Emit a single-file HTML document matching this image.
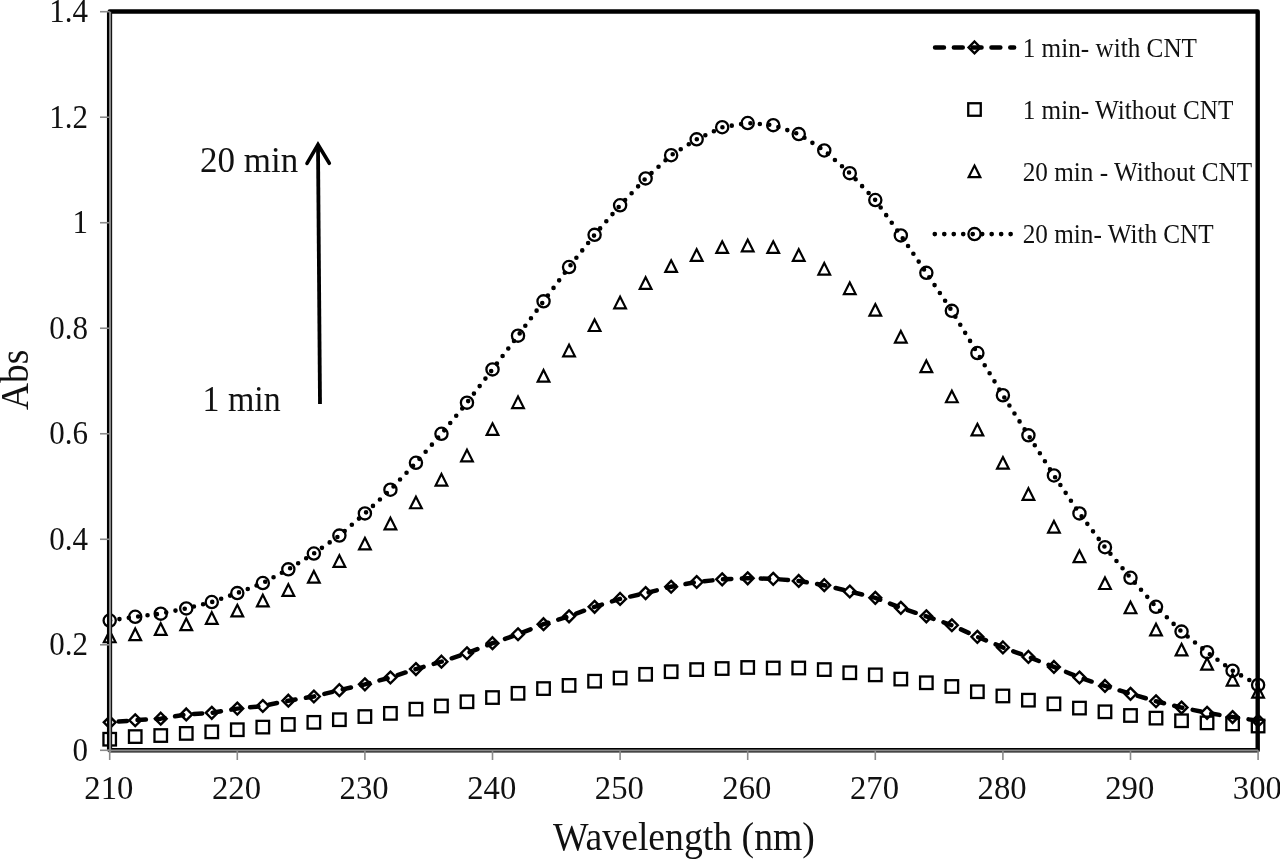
<!DOCTYPE html>
<html><head><meta charset="utf-8"><style>
html,body{margin:0;padding:0;background:#fff;}
svg{display:block;filter:grayscale(100%);}
text{font-family:"Liberation Serif", serif;fill:#111;}
</style></head><body>
<svg width="1280" height="859" viewBox="0 0 1280 859">
<text x="88" y="760.60" font-size="32.8" text-anchor="end" transform="translate(88 0) scale(0.946 1) translate(-88 0)">0</text>
<text x="88" y="655.09" font-size="32.8" text-anchor="end" transform="translate(88 0) scale(0.946 1) translate(-88 0)">0.2</text>
<text x="88" y="549.57" font-size="32.8" text-anchor="end" transform="translate(88 0) scale(0.946 1) translate(-88 0)">0.4</text>
<text x="88" y="444.06" font-size="32.8" text-anchor="end" transform="translate(88 0) scale(0.946 1) translate(-88 0)">0.6</text>
<text x="88" y="338.54" font-size="32.8" text-anchor="end" transform="translate(88 0) scale(0.946 1) translate(-88 0)">0.8</text>
<text x="88" y="233.03" font-size="32.8" text-anchor="end" transform="translate(88 0) scale(0.946 1) translate(-88 0)">1</text>
<text x="88" y="127.52" font-size="32.8" text-anchor="end" transform="translate(88 0) scale(0.946 1) translate(-88 0)">1.2</text>
<text x="88" y="22.00" font-size="32.8" text-anchor="end" transform="translate(88 0) scale(0.946 1) translate(-88 0)">1.4</text>
<text x="0" y="799.2" font-size="34" text-anchor="middle" transform="translate(108.90 0) scale(0.962 1)">210</text>
<text x="0" y="799.2" font-size="34" text-anchor="middle" transform="translate(236.50 0) scale(0.962 1)">220</text>
<text x="0" y="799.2" font-size="34" text-anchor="middle" transform="translate(364.10 0) scale(0.962 1)">230</text>
<text x="0" y="799.2" font-size="34" text-anchor="middle" transform="translate(491.70 0) scale(0.962 1)">240</text>
<text x="0" y="799.2" font-size="34" text-anchor="middle" transform="translate(619.30 0) scale(0.962 1)">250</text>
<text x="0" y="799.2" font-size="34" text-anchor="middle" transform="translate(746.90 0) scale(0.962 1)">260</text>
<text x="0" y="799.2" font-size="34" text-anchor="middle" transform="translate(874.50 0) scale(0.962 1)">270</text>
<text x="0" y="799.2" font-size="34" text-anchor="middle" transform="translate(1002.10 0) scale(0.962 1)">280</text>
<text x="0" y="799.2" font-size="34" text-anchor="middle" transform="translate(1129.70 0) scale(0.962 1)">290</text>
<text x="0" y="799.2" font-size="34" text-anchor="middle" transform="translate(1257.30 0) scale(0.962 1)">300</text>
<text x="553" y="850.5" font-size="39" transform="translate(553 0) scale(0.967 1) translate(-553 0)">Wavelength (nm)</text>
<text transform="translate(27.6 410) rotate(-90) scale(0.96 1)" x="0" y="0" font-size="39">Abs</text>
<polyline points="109.70,722.34 135.22,720.23 160.74,718.65 186.26,714.43 211.78,712.84 237.30,708.62 262.82,705.98 288.34,700.71 313.86,696.49 339.38,690.16 364.90,684.35 390.42,677.50 415.94,669.05 441.46,661.67 466.98,653.23 492.50,643.20 518.02,634.23 543.54,624.21 569.06,616.30 594.58,606.80 620.10,598.89 645.62,593.08 671.14,586.75 696.66,582.01 722.18,579.37 747.70,578.31 773.22,578.84 798.74,580.95 824.26,585.17 849.78,591.50 875.30,597.83 900.82,607.86 926.34,616.30 951.86,625.27 977.38,636.87 1002.90,647.42 1028.42,656.92 1053.94,666.94 1079.46,677.50 1104.98,685.94 1130.50,693.85 1156.02,701.24 1181.54,707.57 1207.06,712.84 1232.58,717.06 1258.10,720.76" fill="none" stroke="#000" stroke-width="4.5" stroke-linecap="round" stroke-linejoin="round" stroke-dasharray="8.4 10.5" stroke-dashoffset="9.9"/>
<polyline points="109.70,620.52 135.22,616.82 160.74,613.66 186.26,608.38 211.78,602.05 237.30,593.08 262.82,583.06 288.34,569.34 313.86,553.52 339.38,535.58 364.90,513.42 390.42,489.68 415.94,462.77 441.46,433.76 466.98,402.63 492.50,369.39 518.02,335.63 543.54,301.34 569.06,267.05 594.58,234.86 620.10,205.32 645.62,178.41 671.14,155.20 696.66,139.37 722.18,127.24 747.70,123.02 773.22,125.13 798.74,134.10 824.26,150.45 849.78,173.14 875.30,200.04 900.82,235.39 926.34,272.85 951.86,310.83 977.38,353.04 1002.90,395.25 1028.42,435.34 1053.94,475.44 1079.46,513.42 1104.98,547.19 1130.50,577.78 1156.02,606.80 1181.54,631.60 1207.06,652.17 1232.58,670.64 1258.10,684.88" fill="none" stroke="#000" stroke-width="4.6" stroke-linecap="round" stroke-linejoin="round" stroke-dasharray="0 9.45" stroke-dashoffset="9.05"/>
<rect x="103.45" y="732.97" width="12.5" height="12.5" fill="none" stroke="#000" stroke-width="2.3"/>
<rect x="128.97" y="730.33" width="12.5" height="12.5" fill="none" stroke="#000" stroke-width="2.3"/>
<rect x="154.49" y="729.28" width="12.5" height="12.5" fill="none" stroke="#000" stroke-width="2.3"/>
<rect x="180.01" y="727.17" width="12.5" height="12.5" fill="none" stroke="#000" stroke-width="2.3"/>
<rect x="205.53" y="725.59" width="12.5" height="12.5" fill="none" stroke="#000" stroke-width="2.3"/>
<rect x="231.05" y="723.47" width="12.5" height="12.5" fill="none" stroke="#000" stroke-width="2.3"/>
<rect x="256.57" y="720.84" width="12.5" height="12.5" fill="none" stroke="#000" stroke-width="2.3"/>
<rect x="282.09" y="718.20" width="12.5" height="12.5" fill="none" stroke="#000" stroke-width="2.3"/>
<rect x="307.61" y="716.09" width="12.5" height="12.5" fill="none" stroke="#000" stroke-width="2.3"/>
<rect x="333.13" y="713.45" width="12.5" height="12.5" fill="none" stroke="#000" stroke-width="2.3"/>
<rect x="358.65" y="710.29" width="12.5" height="12.5" fill="none" stroke="#000" stroke-width="2.3"/>
<rect x="384.17" y="707.12" width="12.5" height="12.5" fill="none" stroke="#000" stroke-width="2.3"/>
<rect x="409.69" y="702.90" width="12.5" height="12.5" fill="none" stroke="#000" stroke-width="2.3"/>
<rect x="435.21" y="699.73" width="12.5" height="12.5" fill="none" stroke="#000" stroke-width="2.3"/>
<rect x="460.73" y="695.51" width="12.5" height="12.5" fill="none" stroke="#000" stroke-width="2.3"/>
<rect x="486.25" y="691.29" width="12.5" height="12.5" fill="none" stroke="#000" stroke-width="2.3"/>
<rect x="511.77" y="687.07" width="12.5" height="12.5" fill="none" stroke="#000" stroke-width="2.3"/>
<rect x="537.29" y="682.32" width="12.5" height="12.5" fill="none" stroke="#000" stroke-width="2.3"/>
<rect x="562.81" y="679.16" width="12.5" height="12.5" fill="none" stroke="#000" stroke-width="2.3"/>
<rect x="588.33" y="674.94" width="12.5" height="12.5" fill="none" stroke="#000" stroke-width="2.3"/>
<rect x="613.85" y="671.77" width="12.5" height="12.5" fill="none" stroke="#000" stroke-width="2.3"/>
<rect x="639.37" y="668.08" width="12.5" height="12.5" fill="none" stroke="#000" stroke-width="2.3"/>
<rect x="664.89" y="665.44" width="12.5" height="12.5" fill="none" stroke="#000" stroke-width="2.3"/>
<rect x="690.41" y="663.33" width="12.5" height="12.5" fill="none" stroke="#000" stroke-width="2.3"/>
<rect x="715.93" y="662.28" width="12.5" height="12.5" fill="none" stroke="#000" stroke-width="2.3"/>
<rect x="741.45" y="661.22" width="12.5" height="12.5" fill="none" stroke="#000" stroke-width="2.3"/>
<rect x="766.97" y="661.75" width="12.5" height="12.5" fill="none" stroke="#000" stroke-width="2.3"/>
<rect x="792.49" y="661.75" width="12.5" height="12.5" fill="none" stroke="#000" stroke-width="2.3"/>
<rect x="818.01" y="663.33" width="12.5" height="12.5" fill="none" stroke="#000" stroke-width="2.3"/>
<rect x="843.53" y="666.50" width="12.5" height="12.5" fill="none" stroke="#000" stroke-width="2.3"/>
<rect x="869.05" y="668.61" width="12.5" height="12.5" fill="none" stroke="#000" stroke-width="2.3"/>
<rect x="894.57" y="672.83" width="12.5" height="12.5" fill="none" stroke="#000" stroke-width="2.3"/>
<rect x="920.09" y="676.52" width="12.5" height="12.5" fill="none" stroke="#000" stroke-width="2.3"/>
<rect x="945.61" y="680.21" width="12.5" height="12.5" fill="none" stroke="#000" stroke-width="2.3"/>
<rect x="971.13" y="685.49" width="12.5" height="12.5" fill="none" stroke="#000" stroke-width="2.3"/>
<rect x="996.65" y="689.71" width="12.5" height="12.5" fill="none" stroke="#000" stroke-width="2.3"/>
<rect x="1022.17" y="693.93" width="12.5" height="12.5" fill="none" stroke="#000" stroke-width="2.3"/>
<rect x="1047.69" y="697.62" width="12.5" height="12.5" fill="none" stroke="#000" stroke-width="2.3"/>
<rect x="1073.21" y="701.84" width="12.5" height="12.5" fill="none" stroke="#000" stroke-width="2.3"/>
<rect x="1098.73" y="705.54" width="12.5" height="12.5" fill="none" stroke="#000" stroke-width="2.3"/>
<rect x="1124.25" y="709.23" width="12.5" height="12.5" fill="none" stroke="#000" stroke-width="2.3"/>
<rect x="1149.77" y="711.87" width="12.5" height="12.5" fill="none" stroke="#000" stroke-width="2.3"/>
<rect x="1175.29" y="714.51" width="12.5" height="12.5" fill="none" stroke="#000" stroke-width="2.3"/>
<rect x="1200.81" y="716.62" width="12.5" height="12.5" fill="none" stroke="#000" stroke-width="2.3"/>
<rect x="1226.33" y="717.67" width="12.5" height="12.5" fill="none" stroke="#000" stroke-width="2.3"/>
<rect x="1251.85" y="719.78" width="12.5" height="12.5" fill="none" stroke="#000" stroke-width="2.3"/>
<path d="M109.70 716.44L115.60 722.34L109.70 728.24L103.80 722.34Z" fill="none" stroke="#000" stroke-width="2.4"/>
<path d="M135.22 714.33L141.12 720.23L135.22 726.13L129.32 720.23Z" fill="none" stroke="#000" stroke-width="2.4"/>
<path d="M160.74 712.75L166.64 718.65L160.74 724.55L154.84 718.65Z" fill="none" stroke="#000" stroke-width="2.4"/>
<path d="M186.26 708.53L192.16 714.43L186.26 720.33L180.36 714.43Z" fill="none" stroke="#000" stroke-width="2.4"/>
<path d="M211.78 706.94L217.68 712.84L211.78 718.74L205.88 712.84Z" fill="none" stroke="#000" stroke-width="2.4"/>
<path d="M237.30 702.72L243.20 708.62L237.30 714.52L231.40 708.62Z" fill="none" stroke="#000" stroke-width="2.4"/>
<path d="M262.82 700.08L268.72 705.98L262.82 711.88L256.92 705.98Z" fill="none" stroke="#000" stroke-width="2.4"/>
<path d="M288.34 694.81L294.24 700.71L288.34 706.61L282.44 700.71Z" fill="none" stroke="#000" stroke-width="2.4"/>
<path d="M313.86 690.59L319.76 696.49L313.86 702.39L307.96 696.49Z" fill="none" stroke="#000" stroke-width="2.4"/>
<path d="M339.38 684.26L345.28 690.16L339.38 696.06L333.48 690.16Z" fill="none" stroke="#000" stroke-width="2.4"/>
<path d="M364.90 678.45L370.80 684.35L364.90 690.25L359.00 684.35Z" fill="none" stroke="#000" stroke-width="2.4"/>
<path d="M390.42 671.60L396.32 677.50L390.42 683.40L384.52 677.50Z" fill="none" stroke="#000" stroke-width="2.4"/>
<path d="M415.94 663.15L421.84 669.05L415.94 674.95L410.04 669.05Z" fill="none" stroke="#000" stroke-width="2.4"/>
<path d="M441.46 655.77L447.36 661.67L441.46 667.57L435.56 661.67Z" fill="none" stroke="#000" stroke-width="2.4"/>
<path d="M466.98 647.33L472.88 653.23L466.98 659.13L461.08 653.23Z" fill="none" stroke="#000" stroke-width="2.4"/>
<path d="M492.50 637.30L498.40 643.20L492.50 649.10L486.60 643.20Z" fill="none" stroke="#000" stroke-width="2.4"/>
<path d="M518.02 628.33L523.92 634.23L518.02 640.13L512.12 634.23Z" fill="none" stroke="#000" stroke-width="2.4"/>
<path d="M543.54 618.31L549.44 624.21L543.54 630.11L537.64 624.21Z" fill="none" stroke="#000" stroke-width="2.4"/>
<path d="M569.06 610.40L574.96 616.30L569.06 622.20L563.16 616.30Z" fill="none" stroke="#000" stroke-width="2.4"/>
<path d="M594.58 600.90L600.48 606.80L594.58 612.70L588.68 606.80Z" fill="none" stroke="#000" stroke-width="2.4"/>
<path d="M620.10 592.99L626.00 598.89L620.10 604.79L614.20 598.89Z" fill="none" stroke="#000" stroke-width="2.4"/>
<path d="M645.62 587.18L651.52 593.08L645.62 598.98L639.72 593.08Z" fill="none" stroke="#000" stroke-width="2.4"/>
<path d="M671.14 580.85L677.04 586.75L671.14 592.65L665.24 586.75Z" fill="none" stroke="#000" stroke-width="2.4"/>
<path d="M696.66 576.11L702.56 582.01L696.66 587.91L690.76 582.01Z" fill="none" stroke="#000" stroke-width="2.4"/>
<path d="M722.18 573.47L728.08 579.37L722.18 585.27L716.28 579.37Z" fill="none" stroke="#000" stroke-width="2.4"/>
<path d="M747.70 572.41L753.60 578.31L747.70 584.21L741.80 578.31Z" fill="none" stroke="#000" stroke-width="2.4"/>
<path d="M773.22 572.94L779.12 578.84L773.22 584.74L767.32 578.84Z" fill="none" stroke="#000" stroke-width="2.4"/>
<path d="M798.74 575.05L804.64 580.95L798.74 586.85L792.84 580.95Z" fill="none" stroke="#000" stroke-width="2.4"/>
<path d="M824.26 579.27L830.16 585.17L824.26 591.07L818.36 585.17Z" fill="none" stroke="#000" stroke-width="2.4"/>
<path d="M849.78 585.60L855.68 591.50L849.78 597.40L843.88 591.50Z" fill="none" stroke="#000" stroke-width="2.4"/>
<path d="M875.30 591.93L881.20 597.83L875.30 603.73L869.40 597.83Z" fill="none" stroke="#000" stroke-width="2.4"/>
<path d="M900.82 601.96L906.72 607.86L900.82 613.76L894.92 607.86Z" fill="none" stroke="#000" stroke-width="2.4"/>
<path d="M926.34 610.40L932.24 616.30L926.34 622.20L920.44 616.30Z" fill="none" stroke="#000" stroke-width="2.4"/>
<path d="M951.86 619.37L957.76 625.27L951.86 631.17L945.96 625.27Z" fill="none" stroke="#000" stroke-width="2.4"/>
<path d="M977.38 630.97L983.28 636.87L977.38 642.77L971.48 636.87Z" fill="none" stroke="#000" stroke-width="2.4"/>
<path d="M1002.90 641.52L1008.80 647.42L1002.90 653.32L997.00 647.42Z" fill="none" stroke="#000" stroke-width="2.4"/>
<path d="M1028.42 651.02L1034.32 656.92L1028.42 662.82L1022.52 656.92Z" fill="none" stroke="#000" stroke-width="2.4"/>
<path d="M1053.94 661.04L1059.84 666.94L1053.94 672.84L1048.04 666.94Z" fill="none" stroke="#000" stroke-width="2.4"/>
<path d="M1079.46 671.60L1085.36 677.50L1079.46 683.40L1073.56 677.50Z" fill="none" stroke="#000" stroke-width="2.4"/>
<path d="M1104.98 680.04L1110.88 685.94L1104.98 691.84L1099.08 685.94Z" fill="none" stroke="#000" stroke-width="2.4"/>
<path d="M1130.50 687.95L1136.40 693.85L1130.50 699.75L1124.60 693.85Z" fill="none" stroke="#000" stroke-width="2.4"/>
<path d="M1156.02 695.34L1161.92 701.24L1156.02 707.14L1150.12 701.24Z" fill="none" stroke="#000" stroke-width="2.4"/>
<path d="M1181.54 701.67L1187.44 707.57L1181.54 713.47L1175.64 707.57Z" fill="none" stroke="#000" stroke-width="2.4"/>
<path d="M1207.06 706.94L1212.96 712.84L1207.06 718.74L1201.16 712.84Z" fill="none" stroke="#000" stroke-width="2.4"/>
<path d="M1232.58 711.16L1238.48 717.06L1232.58 722.96L1226.68 717.06Z" fill="none" stroke="#000" stroke-width="2.4"/>
<path d="M1258.10 714.86L1264.00 720.76L1258.10 726.66L1252.20 720.76Z" fill="none" stroke="#000" stroke-width="2.4"/>
<path d="M109.70 630.67L115.55 642.27L103.85 642.27Z" fill="none" stroke="#000" stroke-width="2.2" stroke-linejoin="miter"/>
<path d="M135.22 628.56L141.07 640.16L129.37 640.16Z" fill="none" stroke="#000" stroke-width="2.2" stroke-linejoin="miter"/>
<path d="M160.74 623.29L166.59 634.89L154.89 634.89Z" fill="none" stroke="#000" stroke-width="2.2" stroke-linejoin="miter"/>
<path d="M186.26 618.54L192.11 630.14L180.41 630.14Z" fill="none" stroke="#000" stroke-width="2.2" stroke-linejoin="miter"/>
<path d="M211.78 612.21L217.63 623.81L205.93 623.81Z" fill="none" stroke="#000" stroke-width="2.2" stroke-linejoin="miter"/>
<path d="M237.30 604.82L243.15 616.42L231.45 616.42Z" fill="none" stroke="#000" stroke-width="2.2" stroke-linejoin="miter"/>
<path d="M262.82 594.80L268.67 606.40L256.97 606.40Z" fill="none" stroke="#000" stroke-width="2.2" stroke-linejoin="miter"/>
<path d="M288.34 584.25L294.19 595.85L282.49 595.85Z" fill="none" stroke="#000" stroke-width="2.2" stroke-linejoin="miter"/>
<path d="M313.86 571.06L319.71 582.66L308.01 582.66Z" fill="none" stroke="#000" stroke-width="2.2" stroke-linejoin="miter"/>
<path d="M339.38 555.23L345.23 566.83L333.53 566.83Z" fill="none" stroke="#000" stroke-width="2.2" stroke-linejoin="miter"/>
<path d="M364.90 537.82L370.75 549.42L359.05 549.42Z" fill="none" stroke="#000" stroke-width="2.2" stroke-linejoin="miter"/>
<path d="M390.42 517.77L396.27 529.37L384.57 529.37Z" fill="none" stroke="#000" stroke-width="2.2" stroke-linejoin="miter"/>
<path d="M415.94 496.67L421.79 508.27L410.09 508.27Z" fill="none" stroke="#000" stroke-width="2.2" stroke-linejoin="miter"/>
<path d="M441.46 473.98L447.31 485.58L435.61 485.58Z" fill="none" stroke="#000" stroke-width="2.2" stroke-linejoin="miter"/>
<path d="M466.98 449.72L472.83 461.32L461.13 461.32Z" fill="none" stroke="#000" stroke-width="2.2" stroke-linejoin="miter"/>
<path d="M492.50 423.34L498.35 434.94L486.65 434.94Z" fill="none" stroke="#000" stroke-width="2.2" stroke-linejoin="miter"/>
<path d="M518.02 396.43L523.87 408.03L512.17 408.03Z" fill="none" stroke="#000" stroke-width="2.2" stroke-linejoin="miter"/>
<path d="M543.54 370.05L549.39 381.65L537.69 381.65Z" fill="none" stroke="#000" stroke-width="2.2" stroke-linejoin="miter"/>
<path d="M569.06 344.73L574.91 356.33L563.21 356.33Z" fill="none" stroke="#000" stroke-width="2.2" stroke-linejoin="miter"/>
<path d="M594.58 319.41L600.43 331.01L588.73 331.01Z" fill="none" stroke="#000" stroke-width="2.2" stroke-linejoin="miter"/>
<path d="M620.10 296.72L625.95 308.32L614.25 308.32Z" fill="none" stroke="#000" stroke-width="2.2" stroke-linejoin="miter"/>
<path d="M645.62 277.20L651.47 288.80L639.77 288.80Z" fill="none" stroke="#000" stroke-width="2.2" stroke-linejoin="miter"/>
<path d="M671.14 260.32L676.99 271.92L665.29 271.92Z" fill="none" stroke="#000" stroke-width="2.2" stroke-linejoin="miter"/>
<path d="M696.66 249.24L702.51 260.84L690.81 260.84Z" fill="none" stroke="#000" stroke-width="2.2" stroke-linejoin="miter"/>
<path d="M722.18 241.33L728.03 252.93L716.33 252.93Z" fill="none" stroke="#000" stroke-width="2.2" stroke-linejoin="miter"/>
<path d="M747.70 239.74L753.55 251.34L741.85 251.34Z" fill="none" stroke="#000" stroke-width="2.2" stroke-linejoin="miter"/>
<path d="M773.22 241.33L779.07 252.93L767.37 252.93Z" fill="none" stroke="#000" stroke-width="2.2" stroke-linejoin="miter"/>
<path d="M798.74 249.24L804.59 260.84L792.89 260.84Z" fill="none" stroke="#000" stroke-width="2.2" stroke-linejoin="miter"/>
<path d="M824.26 262.96L830.11 274.56L818.41 274.56Z" fill="none" stroke="#000" stroke-width="2.2" stroke-linejoin="miter"/>
<path d="M849.78 282.48L855.63 294.08L843.93 294.08Z" fill="none" stroke="#000" stroke-width="2.2" stroke-linejoin="miter"/>
<path d="M875.30 304.11L881.15 315.71L869.45 315.71Z" fill="none" stroke="#000" stroke-width="2.2" stroke-linejoin="miter"/>
<path d="M900.82 331.01L906.67 342.61L894.97 342.61Z" fill="none" stroke="#000" stroke-width="2.2" stroke-linejoin="miter"/>
<path d="M926.34 360.56L932.19 372.16L920.49 372.16Z" fill="none" stroke="#000" stroke-width="2.2" stroke-linejoin="miter"/>
<path d="M951.86 390.63L957.71 402.23L946.01 402.23Z" fill="none" stroke="#000" stroke-width="2.2" stroke-linejoin="miter"/>
<path d="M977.38 423.87L983.23 435.47L971.53 435.47Z" fill="none" stroke="#000" stroke-width="2.2" stroke-linejoin="miter"/>
<path d="M1002.90 457.10L1008.75 468.70L997.05 468.70Z" fill="none" stroke="#000" stroke-width="2.2" stroke-linejoin="miter"/>
<path d="M1028.42 488.23L1034.27 499.83L1022.57 499.83Z" fill="none" stroke="#000" stroke-width="2.2" stroke-linejoin="miter"/>
<path d="M1053.94 520.94L1059.79 532.54L1048.09 532.54Z" fill="none" stroke="#000" stroke-width="2.2" stroke-linejoin="miter"/>
<path d="M1079.46 550.48L1085.31 562.08L1073.61 562.08Z" fill="none" stroke="#000" stroke-width="2.2" stroke-linejoin="miter"/>
<path d="M1104.98 577.39L1110.83 588.99L1099.13 588.99Z" fill="none" stroke="#000" stroke-width="2.2" stroke-linejoin="miter"/>
<path d="M1130.50 601.66L1136.35 613.26L1124.65 613.26Z" fill="none" stroke="#000" stroke-width="2.2" stroke-linejoin="miter"/>
<path d="M1156.02 623.81L1161.87 635.41L1150.17 635.41Z" fill="none" stroke="#000" stroke-width="2.2" stroke-linejoin="miter"/>
<path d="M1181.54 643.86L1187.39 655.46L1175.69 655.46Z" fill="none" stroke="#000" stroke-width="2.2" stroke-linejoin="miter"/>
<path d="M1207.06 658.11L1212.91 669.71L1201.21 669.71Z" fill="none" stroke="#000" stroke-width="2.2" stroke-linejoin="miter"/>
<path d="M1232.58 673.93L1238.43 685.53L1226.73 685.53Z" fill="none" stroke="#000" stroke-width="2.2" stroke-linejoin="miter"/>
<path d="M1258.10 686.07L1263.95 697.67L1252.25 697.67Z" fill="none" stroke="#000" stroke-width="2.2" stroke-linejoin="miter"/>
<circle cx="109.70" cy="620.52" r="6.1" fill="none" stroke="#000" stroke-width="2.3"/>
<circle cx="135.22" cy="616.82" r="6.1" fill="none" stroke="#000" stroke-width="2.3"/>
<circle cx="160.74" cy="613.66" r="6.1" fill="none" stroke="#000" stroke-width="2.3"/>
<circle cx="186.26" cy="608.38" r="6.1" fill="none" stroke="#000" stroke-width="2.3"/>
<circle cx="211.78" cy="602.05" r="6.1" fill="none" stroke="#000" stroke-width="2.3"/>
<circle cx="237.30" cy="593.08" r="6.1" fill="none" stroke="#000" stroke-width="2.3"/>
<circle cx="262.82" cy="583.06" r="6.1" fill="none" stroke="#000" stroke-width="2.3"/>
<circle cx="288.34" cy="569.34" r="6.1" fill="none" stroke="#000" stroke-width="2.3"/>
<circle cx="313.86" cy="553.52" r="6.1" fill="none" stroke="#000" stroke-width="2.3"/>
<circle cx="339.38" cy="535.58" r="6.1" fill="none" stroke="#000" stroke-width="2.3"/>
<circle cx="364.90" cy="513.42" r="6.1" fill="none" stroke="#000" stroke-width="2.3"/>
<circle cx="390.42" cy="489.68" r="6.1" fill="none" stroke="#000" stroke-width="2.3"/>
<circle cx="415.94" cy="462.77" r="6.1" fill="none" stroke="#000" stroke-width="2.3"/>
<circle cx="441.46" cy="433.76" r="6.1" fill="none" stroke="#000" stroke-width="2.3"/>
<circle cx="466.98" cy="402.63" r="6.1" fill="none" stroke="#000" stroke-width="2.3"/>
<circle cx="492.50" cy="369.39" r="6.1" fill="none" stroke="#000" stroke-width="2.3"/>
<circle cx="518.02" cy="335.63" r="6.1" fill="none" stroke="#000" stroke-width="2.3"/>
<circle cx="543.54" cy="301.34" r="6.1" fill="none" stroke="#000" stroke-width="2.3"/>
<circle cx="569.06" cy="267.05" r="6.1" fill="none" stroke="#000" stroke-width="2.3"/>
<circle cx="594.58" cy="234.86" r="6.1" fill="none" stroke="#000" stroke-width="2.3"/>
<circle cx="620.10" cy="205.32" r="6.1" fill="none" stroke="#000" stroke-width="2.3"/>
<circle cx="645.62" cy="178.41" r="6.1" fill="none" stroke="#000" stroke-width="2.3"/>
<circle cx="671.14" cy="155.20" r="6.1" fill="none" stroke="#000" stroke-width="2.3"/>
<circle cx="696.66" cy="139.37" r="6.1" fill="none" stroke="#000" stroke-width="2.3"/>
<circle cx="722.18" cy="127.24" r="6.1" fill="none" stroke="#000" stroke-width="2.3"/>
<circle cx="747.70" cy="123.02" r="6.1" fill="none" stroke="#000" stroke-width="2.3"/>
<circle cx="773.22" cy="125.13" r="6.1" fill="none" stroke="#000" stroke-width="2.3"/>
<circle cx="798.74" cy="134.10" r="6.1" fill="none" stroke="#000" stroke-width="2.3"/>
<circle cx="824.26" cy="150.45" r="6.1" fill="none" stroke="#000" stroke-width="2.3"/>
<circle cx="849.78" cy="173.14" r="6.1" fill="none" stroke="#000" stroke-width="2.3"/>
<circle cx="875.30" cy="200.04" r="6.1" fill="none" stroke="#000" stroke-width="2.3"/>
<circle cx="900.82" cy="235.39" r="6.1" fill="none" stroke="#000" stroke-width="2.3"/>
<circle cx="926.34" cy="272.85" r="6.1" fill="none" stroke="#000" stroke-width="2.3"/>
<circle cx="951.86" cy="310.83" r="6.1" fill="none" stroke="#000" stroke-width="2.3"/>
<circle cx="977.38" cy="353.04" r="6.1" fill="none" stroke="#000" stroke-width="2.3"/>
<circle cx="1002.90" cy="395.25" r="6.1" fill="none" stroke="#000" stroke-width="2.3"/>
<circle cx="1028.42" cy="435.34" r="6.1" fill="none" stroke="#000" stroke-width="2.3"/>
<circle cx="1053.94" cy="475.44" r="6.1" fill="none" stroke="#000" stroke-width="2.3"/>
<circle cx="1079.46" cy="513.42" r="6.1" fill="none" stroke="#000" stroke-width="2.3"/>
<circle cx="1104.98" cy="547.19" r="6.1" fill="none" stroke="#000" stroke-width="2.3"/>
<circle cx="1130.50" cy="577.78" r="6.1" fill="none" stroke="#000" stroke-width="2.3"/>
<circle cx="1156.02" cy="606.80" r="6.1" fill="none" stroke="#000" stroke-width="2.3"/>
<circle cx="1181.54" cy="631.60" r="6.1" fill="none" stroke="#000" stroke-width="2.3"/>
<circle cx="1207.06" cy="652.17" r="6.1" fill="none" stroke="#000" stroke-width="2.3"/>
<circle cx="1232.58" cy="670.64" r="6.1" fill="none" stroke="#000" stroke-width="2.3"/>
<circle cx="1258.10" cy="684.88" r="6.1" fill="none" stroke="#000" stroke-width="2.3"/>
<rect x="109.70" y="11.55" width="1148.00" height="738.75" fill="none" stroke="#000" stroke-width="4.4" stroke-linejoin="round"/>
<line x1="109.55" y1="11.55" x2="109.55" y2="750.30" stroke="#000" stroke-width="5.2"/>
<line x1="110.1" y1="11.70" x2="110.1" y2="752.55" stroke="#8a8a8a" stroke-width="2.1"/>
<line x1="107.45" y1="750.45" x2="1258.10" y2="750.45" stroke="#8a8a8a" stroke-width="2.1"/>
<line x1="100" y1="750.30" x2="109.70" y2="750.30" stroke="#8a8a8a" stroke-width="1.6"/>
<line x1="100" y1="644.79" x2="109.70" y2="644.79" stroke="#8a8a8a" stroke-width="1.6"/>
<line x1="100" y1="539.27" x2="109.70" y2="539.27" stroke="#8a8a8a" stroke-width="1.6"/>
<line x1="100" y1="433.76" x2="109.70" y2="433.76" stroke="#8a8a8a" stroke-width="1.6"/>
<line x1="100" y1="328.24" x2="109.70" y2="328.24" stroke="#8a8a8a" stroke-width="1.6"/>
<line x1="100" y1="222.73" x2="109.70" y2="222.73" stroke="#8a8a8a" stroke-width="1.6"/>
<line x1="100" y1="117.22" x2="109.70" y2="117.22" stroke="#8a8a8a" stroke-width="1.6"/>
<line x1="100" y1="11.70" x2="109.70" y2="11.70" stroke="#8a8a8a" stroke-width="1.6"/>
<line x1="109.70" y1="750.30" x2="109.70" y2="760" stroke="#8a8a8a" stroke-width="1.6"/>
<line x1="237.30" y1="750.30" x2="237.30" y2="760" stroke="#8a8a8a" stroke-width="1.6"/>
<line x1="364.90" y1="750.30" x2="364.90" y2="760" stroke="#8a8a8a" stroke-width="1.6"/>
<line x1="492.50" y1="750.30" x2="492.50" y2="760" stroke="#8a8a8a" stroke-width="1.6"/>
<line x1="620.10" y1="750.30" x2="620.10" y2="760" stroke="#8a8a8a" stroke-width="1.6"/>
<line x1="747.70" y1="750.30" x2="747.70" y2="760" stroke="#8a8a8a" stroke-width="1.6"/>
<line x1="875.30" y1="750.30" x2="875.30" y2="760" stroke="#8a8a8a" stroke-width="1.6"/>
<line x1="1002.90" y1="750.30" x2="1002.90" y2="760" stroke="#8a8a8a" stroke-width="1.6"/>
<line x1="1130.50" y1="750.30" x2="1130.50" y2="760" stroke="#8a8a8a" stroke-width="1.6"/>
<line x1="1258.10" y1="750.30" x2="1258.10" y2="760" stroke="#8a8a8a" stroke-width="1.6"/>
<line x1="935.05" y1="47.4" x2="1014.15" y2="47.4" stroke="#000" stroke-width="4.5" stroke-linecap="round" stroke-dasharray="8.9 9.9"/>
<path d="M974.50 41.50L980.40 47.40L974.50 53.30L968.60 47.40Z" fill="none" stroke="#000" stroke-width="2.4"/>
<rect x="968.25" y="103.25" width="12.5" height="12.5" fill="none" stroke="#000" stroke-width="2.3"/>
<path d="M974.50 165.60L980.35 177.20L968.65 177.20Z" fill="none" stroke="#000" stroke-width="2.2" stroke-linejoin="miter"/>
<line x1="934.8" y1="234.1" x2="1012" y2="234.1" stroke="#000" stroke-width="4.7" stroke-linecap="round" stroke-dasharray="0 9.48"/>
<circle cx="974.50" cy="234.10" r="6.1" fill="none" stroke="#000" stroke-width="2.3"/>
<text x="1022.7" y="56.80" font-size="26.4" transform="translate(1022.7 0) scale(0.955 1) translate(-1022.7 0)">1 min- with CNT</text>
<text x="1022.7" y="118.90" font-size="26.4" transform="translate(1022.7 0) scale(0.955 1) translate(-1022.7 0)">1 min- Without CNT</text>
<text x="1022.7" y="181.20" font-size="26.4" transform="translate(1022.7 0) scale(0.955 1) translate(-1022.7 0)">20 min - Without CNT</text>
<text x="1022.7" y="243.50" font-size="26.4" transform="translate(1022.7 0) scale(0.955 1) translate(-1022.7 0)">20 min- With CNT</text>
<text x="200" y="171.9" font-size="35">20 min</text>
<text x="202.5" y="411" font-size="35" transform="translate(202.5 0) scale(0.97 1) translate(-202.5 0)">1 min</text>
<path d="M320 403.9L318 146" fill="none" stroke="#000" stroke-width="3.8" stroke-linecap="butt"/>
<path d="M307 163.4L318 144.6L329.3 163.3" fill="none" stroke="#000" stroke-width="3.6" stroke-linecap="round" stroke-linejoin="miter"/>
</svg>
</body></html>
